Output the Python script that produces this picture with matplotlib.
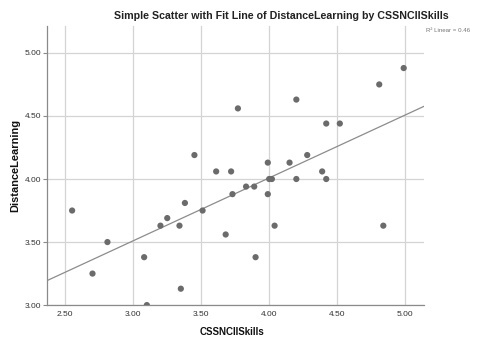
import numpy as np
import matplotlib
matplotlib.use("Agg")
import matplotlib.pyplot as plt

plt.rcParams['font.family'] = ['Liberation Sans', 'DejaVu Sans']

cssnc_skills = [2.55, 2.70, 2.81, 3.08, 3.10, 3.20, 3.25, 3.34, 3.35, 3.38,
                3.45, 3.51, 3.61, 3.68, 3.72, 3.73, 3.77, 3.83, 3.89, 3.90,
                3.99, 3.99, 4.00, 4.02, 4.04, 4.15, 4.20, 4.20, 4.28, 4.39,
                4.42, 4.42, 4.52, 4.81, 4.84, 4.99]
distance_learning = [3.75, 3.25, 3.50, 3.38, 3.00, 3.63, 3.69, 3.63, 3.13, 3.81,
                     4.19, 3.75, 4.06, 3.56, 4.06, 3.88, 4.56, 3.94, 3.94, 3.38,
                     3.88, 4.13, 4.00, 4.00, 3.63, 4.13, 4.63, 4.00, 4.19, 4.06,
                     4.44, 4.00, 4.44, 4.75, 3.63, 4.88]
x_ticks = [2.50, 3.00, 3.50, 4.00, 4.50, 5.00]
y_ticks = [3.00, 3.50, 4.00, 4.50, 5.00]
r2_label = "R² Linear = 0.46"

x = np.array(cssnc_skills)
y = np.array(distance_learning)

fig = plt.figure(figsize=(4.79, 3.39), dpi=100)
ax = fig.add_axes([0.0975, 0.100, 0.787, 0.822])

xlim = (2.363, 5.137)
ylim = (3.0, 5.21)
ax.set_xlim(*xlim)
ax.set_ylim(*ylim)

ax.grid(True, color='#d4d4d4', linewidth=0.9)
ax.set_axisbelow(True)

slope, intercept = np.polyfit(x, y, 1)
xs = np.array(xlim)
ax.plot(xs, slope * xs + intercept, color='#8c8c8c', linewidth=0.9, zorder=2)

ax.scatter(x, y, s=20, color='#6b6b6b', edgecolors='none', zorder=3)

for s in ['top', 'right']:
    ax.spines[s].set_visible(False)
for s in ['left', 'bottom']:
    ax.spines[s].set_color('#8a8a8a')
    ax.spines[s].set_linewidth(0.9)

ax.set_xticks(x_ticks)
ax.set_xticklabels([f"{t:.2f}" for t in x_ticks])
ax.set_yticks(y_ticks)
ax.set_yticklabels([f"{t:.2f}" for t in y_ticks])
ax.tick_params(axis='both', labelsize=6.0, colors='#8a8a8a', labelcolor='#333333',
               length=3, width=0.8)
ax.tick_params(axis='y', pad=1.0)
ax.tick_params(axis='x', length=0, pad=4.0)

fig.text(232 / 479, 1 - 332 / 339, "CSSNCIISkills", ha='center', va='center',
         fontsize=7.0, fontweight='bold', color='#111111')
fig.text(15 / 479, 1 - 165 / 339, "DistanceLearning", ha='center', va='center',
         rotation=90, fontsize=7.9, fontweight='bold', color='#111111')

fig.text(281 / 479, 1 - 16 / 339, "Simple Scatter with Fit Line of DistanceLearning by CSSNCIISkills",
         ha='center', va='center', fontsize=7.65, fontweight='bold', color='#222222')
fig.text(448 / 479, 1 - 31 / 339, r2_label, ha='center', va='center',
         fontsize=4.4, color='#777777')

fig.savefig("out.png", dpi=100)
